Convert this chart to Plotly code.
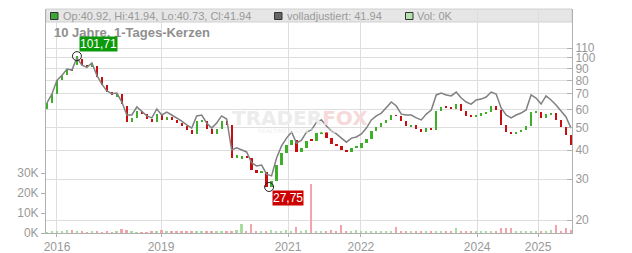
import plotly.graph_objects as go
import math

# ---- data ----
open_ = [60, 64, 70, 80, 84, 89.5, 93, 99, 93, 91,
         92, 83, 76.4, 71.2, 68, 69.8, 62, 53, 55, 59,
         57, 54.5, 53, 57, 54, 55.6, 54, 52.4, 51, 49,
         47, 53.4, 53.4, 49.3, 47, 49.3, 53.4, 51.4, 37, 36.5,
         37.8, 37, 33, 31.9, 32.2, 27.8, 29.5, 34.5, 38.9, 42,
         44.2, 39.3, 40.9, 44.5, 43.6, 47.4, 47.9, 45.1, 42.5, 41.7,
         40.1, 39.3, 40.9, 40.9, 42.9, 44.6, 48.4, 50.3, 52.4, 54,
         56.7, 56.2, 53.4, 50.8, 51.4, 49.3, 47.9, 49.8, 48.9, 59,
         61.4, 60.8, 60.2, 63.2, 59, 56.2, 55.6, 56.7, 57.8, 58.4,
         62, 59.6, 51.4, 47.9, 47, 47.9, 48.9, 50.8, 58.4, 58.4,
         55.1, 57.2, 57.8, 54, 50.3, 46.5]
close = [64, 70, 80, 84, 89.5, 88.6, 101.7, 93, 91, 95,
         83, 76.4, 71.2, 69.2, 69.8, 63, 53, 55, 59, 57,
         54.5, 53, 57, 54, 55.6, 54, 52.4, 51, 49, 47,
         53.4, 53.4, 49.3, 47, 49.3, 53.4, 51.4, 37, 38, 37.8,
         37, 33, 31.9, 32.2, 27.8, 29.5, 34.5, 38.9, 42, 44.2,
         39.3, 40.9, 43.8, 43.6, 47.4, 47.9, 45.1, 42.5, 41.7, 40.1,
         39.3, 40.9, 40.9, 42.9, 44.6, 48.4, 50.3, 52.4, 54, 56.7,
         56.2, 53.4, 50.8, 51.4, 49.3, 47.9, 49.8, 48.9, 59, 61.4,
         60.8, 60.2, 63.2, 59, 56.2, 55.6, 56.7, 57.8, 58.4, 62,
         59.6, 51.4, 47.9, 47, 47.9, 48.9, 50.8, 58.4, 58.4, 55.1,
         57.2, 57.8, 54, 50.3, 46.5, 41.94]
adjusted = [64, 70, 80, 84, 89.5, 88.6, 100, 93, 91, 95,
            84, 77, 72, 70, 70.5, 64.5, 56.7, 56.7, 61.4, 59,
            56.2, 55.1, 60.2, 56.7, 58.4, 56.7, 55.1, 53.4, 51.4, 49.8,
            56.2, 56.7, 52.4, 49.8, 52.4, 56.2, 54.5, 40.1, 40.9, 40.1,
            39.3, 35.3, 34.2, 34.5, 31.5, 31, 37, 41.7, 45.1, 47.9,
            42.9, 44.2, 47.9, 48.9, 52.9, 54, 50.8, 48.4, 47, 45.1,
            43.3, 45.1, 45.6, 47, 49.8, 54, 56.2, 57.8, 60.8, 64.5,
            62, 57.2, 56.7, 56.7, 55.1, 54, 57.2, 59.6, 69.2, 70.5,
            69.2, 68.5, 71.2, 67.1, 64.5, 63.2, 65.8, 66.4, 67.8, 71.2,
            69.8, 60.8, 56.7, 55.1, 56.7, 57.8, 59.6, 69.2, 67.1, 63.2,
            68.5, 65.8, 62.6, 59, 55.6, 49.8]
volume_k = [0.5, 0.8, 0.6, 1.0, 1.5, 1.4, 0.9, 0.7, 0.5, 0.8,
            0.6, 0.4, 0.7, 0.5, 0.6, 2.0, 1.5, 0.6, 0.4, 0.5,
            0.5, 0.7, 0.6, 1.5, 0.8, 0.9, 0.6, 0.7, 0.8, 0.6,
            0.9, 0.7, 1.0, 0.8, 0.6, 0.9, 1.2, 1.0, 1.3, 4.5,
            1.0, 4.5, 1.2, 0.9, 1.1, 1.4, 0.8, 1.0, 1.3, 0.9,
            3.0, 1.0, 1.5, 24.5, 1.2, 0.9, 1.0, 1.3, 0.8, 4.0,
            1.1, 0.9, 1.4, 1.0, 0.8, 1.2, 0.9, 1.0, 0.7, 0.9,
            3.0, 0.8, 0.6, 0.9, 0.7, 1.0, 0.8, 0.6, 0.9, 0.7,
            0.8, 1.0, 2.5, 0.9, 0.7, 0.6, 0.8, 0.7, 0.9, 0.8,
            1.0, 2.5, 2.5, 2.5, 1.0, 0.8, 0.9, 1.2, 0.8, 1.0,
            0.9, 1.3, 4.0, 1.2, 2.5, 1.5]
year_pos = [2.0, 22.85, 48.3, 62.9, 86.2, 98.4]
year_labels = ["2016", "2019", "2021", "2022", "2024", "2025"]
price_ticks = [20, 30, 40, 50, 60, 70, 80, 90, 100, 110]
vol_ticks = [0, 10, 20, 30]
vol_labels = ["0K", "10K", "20K", "30K"]
high_mark = (6, 101.71, "101,71")
low_mark = (44.5, 27.75, "27,75")

idx = list(range(len(close)))
vol_colors = ["#a9dba2" if c >= o else "#f2a3ab" for o, c in zip(open_, close)]

GREEN = "#3fae2a"
RED = "#c80f0f"
GRID = "#dedede"
AX = "#b0b0b0"
TXT = "#999999"

# candle bodies as thin bars (base = lower of open/close)
up_x = [i for i in idx if close[i] >= open_[i]]
dn_x = [i for i in idx if close[i] < open_[i]]

fig = go.Figure()
fig.add_trace(go.Bar(x=idx, y=volume_k, marker_color=vol_colors, marker_line_width=0,
                     width=0.35, yaxis="y", showlegend=False))
fig.add_trace(go.Scatter(x=idx, y=adjusted, mode="lines", line=dict(color="#808080", width=1.5),
                         yaxis="y2", showlegend=False))
fig.add_trace(go.Bar(x=up_x, base=[open_[i] for i in up_x],
                     y=[max(close[i] - open_[i], 0.6) for i in up_x],
                     marker_color=GREEN, marker_line_width=0, width=0.45, yaxis="y2", showlegend=False))
fig.add_trace(go.Bar(x=dn_x, base=[close[i] for i in dn_x],
                     y=[open_[i] - close[i] for i in dn_x],
                     marker_color=RED, marker_line_width=0, width=0.45, yaxis="y2", showlegend=False))
fig.add_trace(go.Scatter(x=[high_mark[0], low_mark[0]], y=[high_mark[1], low_mark[1]], mode="markers",
                         marker=dict(symbol="circle-open", size=9, color="#222222", line=dict(width=1)),
                         yaxis="y2", showlegend=False))

W, H = 632, 253
L, R, T, B = 46, 60, 9, 20
pw, ph = W - L - R, H - T - B

def px(x):
    return (x - L) / pw

def py(y):
    return (H - B - y) / ph

shapes = [
    dict(type="rect", xref="paper", yref="paper", x0=0, x1=1, y0=py(22), y1=1,
         fillcolor="#e6e6e6", line=dict(color="#d0d0d0", width=1), layer="below"),
    dict(type="rect", xref="paper", yref="paper", x0=px(50.5), x1=px(58), y0=py(19.5), y1=py(12.5),
         fillcolor="#3aa832", line=dict(color="#333333", width=1)),
    dict(type="rect", xref="paper", yref="paper", x0=px(274.5), x1=px(282), y0=py(19.5), y1=py(12.5),
         fillcolor="#666666", line=dict(color="#333333", width=1)),
    dict(type="rect", xref="paper", yref="paper", x0=px(405.5), x1=px(413), y0=py(19.5), y1=py(12.5),
         fillcolor="#b4e3ad", line=dict(color="#333333", width=1)),
]

font = "Liberation Sans, Arial, sans-serif"
annotations = [
    dict(xref="paper", yref="paper", x=px(61), y=py(16), xanchor="left", yanchor="middle",
         text="Op:40.92, Hi:41.94, Lo:40.73, Cl:41.94", showarrow=False,
         font=dict(family=font, size=11, color=TXT)),
    dict(xref="paper", yref="paper", x=px(285), y=py(16), xanchor="left", yanchor="middle",
         text="volladjustiert: 41.94", showarrow=False, font=dict(family=font, size=11, color=TXT)),
    dict(xref="paper", yref="paper", x=px(415), y=py(16), xanchor="left", yanchor="middle",
         text="Vol: 0K", showarrow=False, font=dict(family=font, size=11, color=TXT)),
    dict(xref="paper", yref="paper", x=px(52), y=py(33), xanchor="left", yanchor="middle",
         text="<b>10 Jahre, 1-Tages-Kerzen</b>", showarrow=False,
         font=dict(family=font, size=13, color="#8f8f8f")),
    dict(xref="paper", yref="paper", x=px(300), y=py(118), xanchor="center", yanchor="middle",
         text="<b>TRADER<span style='color:#f6dada'>FOX</span></b>", showarrow=False,
         font=dict(family="DejaVu Sans", size=20, color="#ececec")),
    dict(xref="paper", yref="paper", x=px(300), y=py(130), xanchor="center", yanchor="middle",
         text="REALTIME STOCK SCREENER", showarrow=False,
         font=dict(family="DejaVu Sans", size=6, color="#f0f0f0")),
    dict(xref="x", yref="y2", x=high_mark[0], y=math.log10(high_mark[1]), xanchor="left", yanchor="bottom",
         xshift=2, yshift=4, text=high_mark[2], showarrow=False, bgcolor="#0c9a0c", borderpad=0,
         font=dict(family=font, size=12, color="white")),
    dict(xref="x", yref="y2", x=low_mark[0], y=math.log10(low_mark[1]), xanchor="left", yanchor="top",
         xshift=3, yshift=-3, text=low_mark[2], showarrow=False, bgcolor="#cc0000", borderpad=0,
         font=dict(family=font, size=12, color="white")),
]

fig.update_layout(
    width=W, height=H, margin=dict(l=L, r=R, t=T, b=B, pad=0, autoexpand=False),
    paper_bgcolor="white", plot_bgcolor="white", showlegend=False, barmode="overlay",
    font=dict(family=font, size=12, color=TXT),
    shapes=shapes, annotations=annotations, bargap=0,
    xaxis=dict(range=[-0.2, 105.2], tickvals=year_pos, ticktext=year_labels, showgrid=True,
               gridcolor=GRID, gridwidth=1, ticks="outside", ticklen=3, tickcolor=AX,
               showline=True, linecolor=AX, zeroline=False, automargin=False,
               tickfont=dict(size=12, color=TXT), fixedrange=True),
    yaxis=dict(range=[0, 112], tickvals=vol_ticks, ticktext=vol_labels, showgrid=False,
               ticks="outside", ticklen=4, tickcolor=AX, showline=True, linecolor=AX,
               zeroline=False, side="left", automargin=False, tickfont=dict(size=12, color=TXT)),
    yaxis2=dict(type="log", range=[1.245, 2.2105], tickvals=price_ticks,
                ticktext=[str(v) for v in price_ticks], overlaying="y", side="right",
                showgrid=True, gridcolor=GRID, gridwidth=1, ticks="inside", ticklen=5,
                tickcolor=AX, showline=True, linecolor=AX, zeroline=False, automargin=False,
                tickfont=dict(size=12, color=TXT)),
)

fig.write_html("out.html")
